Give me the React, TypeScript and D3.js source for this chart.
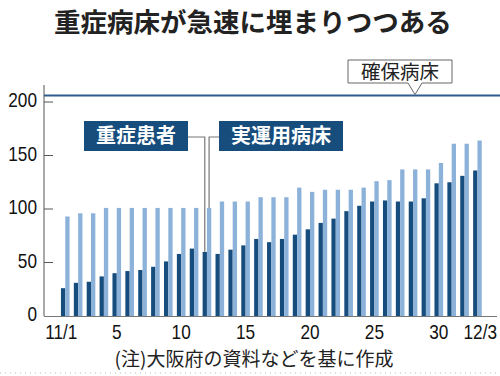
import React from "react";
import * as d3 from "d3";

const days: string[] = Array.from({ length: 33 }, (_, i) => (i < 30 ? `11/${i + 1}` : `12/${i - 29}`));
const severePatients: number[] = [26, 31, 32, 37, 40, 42, 43, 46, 51, 58, 63, 60, 58, 62, 66, 72, 69, 72, 76, 81, 87, 91, 98, 103, 107, 108, 107, 107, 110, 124, 125, 131, 136];
const operatingBeds: number[] = [93, 96, 96, 101, 101, 101, 101, 101, 101, 101, 101, 101, 107, 107, 107, 111, 111, 111, 120, 116, 118, 118, 118, 120, 126, 127, 137, 137, 137, 143, 161, 161, 164];
const securedBeds = 206;
const yTicks: number[] = [0, 50, 100, 150, 200];
const xTickDays: string[] = ["11/1", "11/5", "11/10", "11/15", "11/20", "11/25", "11/30", "12/3"];
const xTickLabels: string[] = ["11/1", "5", "10", "15", "20", "25", "30", "12/3"];

const title = "重症病床が急速に埋まりつつある";
const seriesNames = ["重症患者", "実運用病床"];
const securedLabel = "確保病床";
const note = "(注)大阪府の資料などを基に作成";

const W = 500;
const H = 376;
const DARK = "#174d7d";
const LIGHT = "#8cb2da";
const JP = "'Noto Sans CJK JP', 'Noto Sans', sans-serif";
const NUM = "'Liberation Sans Narrow', 'Arial Narrow', 'Liberation Sans', sans-serif";

function Num({ x, y, anchor, children }: { x: number; y: number; anchor: "start" | "middle" | "end"; children: React.ReactNode }) {
  return (
    <text transform={`translate(${x},${y}) scale(0.82,1)`} textAnchor={anchor} fontFamily={NUM} fontSize={21} fill="#111">
      {children}
    </text>
  );
}

export default function App() {
  const x = d3.scaleBand<string>().domain(days).range([54.5, 488.2]).paddingInner(0.33).paddingOuter(0.5);
  const xs = d3.scaleBand<string>().domain(["s", "o"]).range([0, x.bandwidth()]).padding(0);
  const y = d3.scaleLinear().domain([0, 200]).range([316, 102]);
  const axisX = 44;
  const base = y(0);
  const lineY = y(securedBeds);

  const i12 = 11;
  const darkX = (x(days[i12]) as number) + xs("s")! + xs.bandwidth() / 2;
  const lightX = (x(days[i12]) as number) + xs("o")! + xs.bandwidth() / 2;
  const legendY = 137;

  return (
    <svg width={W} height={H} style={{ position: "absolute", left: 0, top: 0, background: "#fff" }}>
      <text x={253} y={32} textAnchor="middle" fontFamily={JP} fontWeight={700} fontSize={26.5} fill="#222">
        {title}
      </text>

      {/* bars */}
      {days.map((d, i) => (
        <g key={d}>
          <rect x={(x(d) as number) + xs("s")!} y={y(severePatients[i])} width={xs.bandwidth()} height={base - y(severePatients[i])} fill={DARK} />
          <rect x={(x(d) as number) + xs("o")!} y={y(operatingBeds[i])} width={xs.bandwidth()} height={base - y(operatingBeds[i])} fill={LIGHT} />
        </g>
      ))}

      {/* axes */}
      <line x1={axisX} x2={axisX} y1={85} y2={base} stroke="#555" strokeWidth={1} />
      <line x1={axisX} x2={497} y1={base + 0.5} y2={base + 0.5} stroke="#777" strokeWidth={1} />
      {yTicks.map((t) => (
        <g key={t}>
          {t > 0 && <line x1={axisX} x2={axisX + 9} y1={y(t)} y2={y(t)} stroke="#555" strokeWidth={1} />}
          <Num x={37} y={y(t) + 5} anchor="end">{t}</Num>
        </g>
      ))}
      {xTickDays.map((d, i) => {
        const last = i === xTickDays.length - 1;
        const cx = (x(d) as number) + x.bandwidth() / 2;
        return (
          <Num key={d} x={last ? 497 : i === 0 ? cx - 4 : cx} y={339} anchor={last ? "end" : "middle"}>
            {xTickLabels[i]}
          </Num>
        );
      })}

      {/* secured beds line */}
      <line x1={axisX} x2={W} y1={lineY} y2={lineY} stroke="#2f5c8c" strokeWidth={2} />
      <path d={`M348,60 H452 V83 H422 L415,${lineY - 1} L408,83 H348 Z`} fill="#fff" stroke="#666" strokeWidth={1} />
      <text x={400} y={79} textAnchor="middle" fontFamily={JP} fontSize={19.5} fill="#222">
        {securedLabel}
      </text>

      {/* leader lines */}
      <path d={`M188,${legendY} H${darkX} V${y(severePatients[i12])}`} fill="none" stroke="#fff" strokeWidth={3} />
      <path d={`M219,${legendY} H${lightX} V${y(operatingBeds[i12])}`} fill="none" stroke="#fff" strokeWidth={3} />
      <path d={`M188,${legendY} H${darkX} V${y(severePatients[i12])}`} fill="none" stroke="#777" strokeWidth={1.2} />
      <path d={`M219,${legendY} H${lightX} V${y(operatingBeds[i12])}`} fill="none" stroke="#777" strokeWidth={1.2} />

      {/* legend boxes */}
      <rect x={84} y={121} width={104} height={30} fill={DARK} />
      <text x={136} y={143} textAnchor="middle" fontFamily={JP} fontWeight={700} fontSize={20} fill="#fff">
        {seriesNames[0]}
      </text>
      <rect x={219} y={121} width={124} height={30} fill={DARK} />
      <text x={281} y={143} textAnchor="middle" fontFamily={JP} fontWeight={700} fontSize={20} fill="#fff">
        {seriesNames[1]}
      </text>

      {/* note */}
      <text x={254} y={366} textAnchor="middle" fontFamily={JP} fontSize={19} fill="#222">
        {note}
      </text>
      <line x1={0} x2={W} y1={373} y2={373} stroke="#bbb" strokeWidth={1} strokeDasharray="1 4" />
    </svg>
  );
}
